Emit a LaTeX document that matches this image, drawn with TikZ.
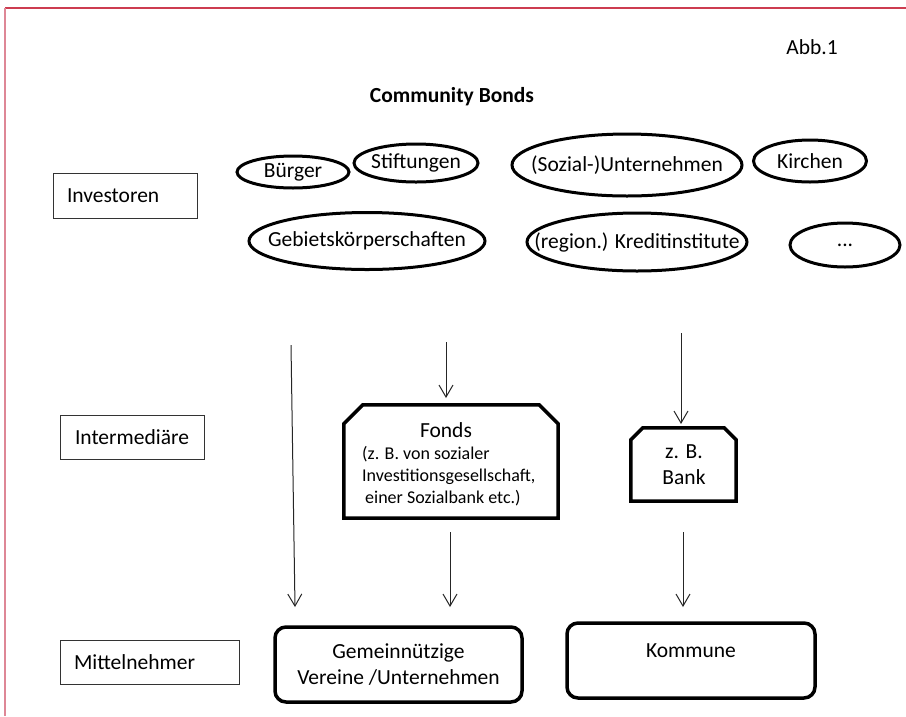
\documentclass[tikz,border=0pt]{standalone}
\usepackage{fontspec}
\setmainfont{Carlito}
\usetikzlibrary{shapes.geometric,arrows.meta}
\definecolor{frametop}{RGB}{205,60,80}
\definecolor{frameleft}{RGB}{222,135,150}
\newcommand{\zw}[1]{\makebox[0pt]{#1}}
\begin{document}
\begin{tikzpicture}[x=1pt,y=-1pt,
  base/.style={font=\fontsize{21.5}{26}\selectfont},
  invell/.style={ellipse, draw, line width=3pt, inner sep=0pt, base},
  lbl/.style={draw=black!80, line width=0.9pt, inner sep=0pt, base},
  rbox/.style={draw, line width=3.5pt, rounded corners=11pt, inner sep=0pt, align=center, font=\fontsize{21.5}{26}\selectfont},
  chamf/.style={draw, line width=3.5pt, line join=miter},
  flow/.style={-{Straight Barb[length=12pt,width=14pt]}, line width=1pt, black!85},
]
\useasboundingbox (0,0) rectangle (906,716);
\fill[white] (0,0) rectangle (906,716);
% frame
\coordinate (ftr) at (906,8);
\coordinate (ftl) at (5,8);
\coordinate (fbl) at (5,716);
\draw[frametop, line width=1.3pt] (ftr) -- (ftl);
\draw[frameleft, line width=1.5pt] (ftl) -- (fbl);

% titles
\node[base] (abb) at (812,47) {Abb.1};
\node[base, font=\fontsize{21.5}{26}\selectfont\bfseries] (title) at (452,97) {Community Bonds};

% level labels
\node[lbl, minimum width=144pt, minimum height=45pt, text width=116pt, inner xsep=14pt, align=left] (investoren) at (125,195.5) {Investoren};
\node[lbl, minimum width=144pt, minimum height=44pt, align=center] (intermed) at (132,437) {Intermediäre};
\node[lbl, minimum width=179pt, minimum height=44pt, text width=151pt, inner xsep=14pt, align=left] (mittel) at (149.5,662) {Mittelnehmer};

% investors
\node[invell, minimum width=112pt, minimum height=32pt] (buerger) at (293,172) {\zw{Bürger}};
\node[invell, minimum width=124pt, minimum height=38pt] (stift) at (416,163) {\zw{Stiftungen}};
\node[invell, minimum width=230pt, minimum height=62pt] (sozial) at (627,165) {\zw{(Sozial-)Unternehmen}};
\node[invell, minimum width=113pt, minimum height=42pt] (kirchen) at (810,161) {\zw{Kirchen}};
\node[invell, minimum width=236pt, minimum height=57pt] (gebiet) at (367,241) {\zw{Gebietskörperschaften}};
\node[invell, minimum width=220pt, minimum height=58pt] (kredit) at (637,242) {\zw{(region.) Kreditinstitute}};
\node[invell, minimum width=110pt, minimum height=44pt] (dots) at (845,245) {\zw{...}};

% intermediaries
\node[minimum width=214pt, minimum height=113pt, inner sep=0pt] (fonds) at (451,461.5) {};
\draw[chamf] (fonds.south west) -- ([yshift=-19pt]fonds.north west) -- ([xshift=19pt]fonds.north west) -- ([xshift=-19pt]fonds.north east) -- ([yshift=-19pt]fonds.north east) -- (fonds.south east) -- cycle;
\node[base] (fondstitle) at (446,430) {Fonds};
\node[anchor=west, align=left, font=\fontsize{18}{22}\selectfont, inner sep=0pt] (fondsdetail) at (362,476) {(z. B. von sozialer\\Investitionsgesellschaft,\\\hspace*{3pt}einer Sozialbank etc.)};

\node[minimum width=105pt, minimum height=73pt, inner sep=0pt] (bank) at (683.5,464.5) {};
\draw[chamf] (bank.south west) -- ([yshift=-12pt]bank.north west) -- ([xshift=12pt]bank.north west) -- ([xshift=-12pt]bank.north east) -- ([yshift=-12pt]bank.north east) -- (bank.south east) -- cycle;
\node[align=center, font=\fontsize{21.5}{26}\selectfont] (banktext) at (684,465) {z. B.\\Bank};

% recipients
\node[rbox, minimum width=247pt, minimum height=75pt] (gemein) at (398.5,664.5) {Gemeinnützige\\Vereine /Unternehmen};
\node[rbox, minimum width=248pt, minimum height=75pt] (kommune) at (691,660.5) {Kommune\\[-6pt]\mbox{}};

% arrows
\coordinate (a1s) at (291,345); \coordinate (a1e) at (295,607);
\coordinate (a2s) at (446,342); \coordinate (a2e) at (446,398);
\coordinate (a3s) at (450,532); \coordinate (a3e) at (450,607);
\coordinate (a4s) at (681,333); \coordinate (a4e) at (681,424);
\coordinate (a5s) at (683,532); \coordinate (a5e) at (683,607);
\draw[flow] (a1s) -- (a1e);
\draw[flow] (a2s) -- (a2e);
\draw[flow] (a3s) -- (a3e);
\draw[flow] (a4s) -- (a4e);
\draw[flow] (a5s) -- (a5e);
\end{tikzpicture}
\end{document}
